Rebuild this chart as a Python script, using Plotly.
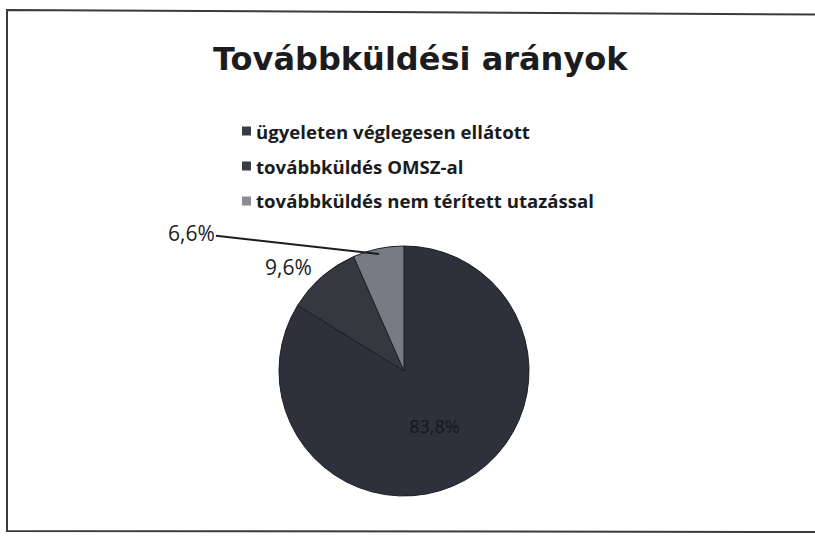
import plotly.graph_objects as go

W, H = 815, 539

title_text = "Továbbküldési arányok"
categories = [
    "ügyeleten véglegesen ellátott",
    "továbbküldés OMSZ-al",
    "továbbküldés nem térített utazással",
]
shares = [83.8, 9.6, 6.6]
slice_colors = ["#2e313c", "#363840", "#787b83"]
legend_swatches = ["#3a3d46", "#3a3d46", "#8a8d93"]

INK = "#1b1c20"


def px(x):
    return x / W


def py(y):
    return 1 - y / H


def pct(v):
    return f"{v:.1f}".replace(".", ",") + "%"


# pie geometry (pixels)
cx, cy, r = 404, 371, 125

fig = go.Figure(
    go.Pie(
        labels=categories,
        values=shares,
        sort=False,
        direction="clockwise",
        rotation=0,
        marker=dict(colors=slice_colors, line=dict(color="#1c1d22", width=1)),
        text=[pct(shares[0]), "", ""],
        textinfo="text",
        textposition="inside",
        insidetextorientation="horizontal",
        textfont=dict(family="Open Sans", size=18, color="#15161a"),
        showlegend=False,
        domain=dict(x=[px(cx - r), px(cx + r)], y=[py(cy + r), py(cy - r)]),
    )
)

annotations = [
    dict(
        text=f"<b>{title_text}</b>",
        x=px(420), y=py(59), xref="paper", yref="paper",
        xanchor="center", yanchor="middle", showarrow=False,
        font=dict(family="DejaVu Sans", size=32, color=INK),
    ),
    # outside value labels
    dict(
        text=pct(shares[1]),
        x=px(288), y=py(267), xref="paper", yref="paper",
        xanchor="center", yanchor="middle", showarrow=False,
        font=dict(family="Open Sans", size=21, color=INK),
    ),
    dict(
        text=pct(shares[2]),
        x=px(379), y=py(254), xref="paper", yref="paper",
        ax=191 - 379, ay=233 - 254, axref="pixel", ayref="pixel",
        showarrow=True, arrowhead=0, arrowwidth=2, arrowcolor=INK,
        font=dict(family="Open Sans", size=21, color=INK),
    ),
]

shapes = [
    # page frame
    dict(
        type="path", xref="paper", yref="paper",
        path=(
            f"M {px(830)},{py(14.5)} L {px(7)},{py(10)} "
            f"L {px(7)},{py(531)} L {px(830)},{py(532)}"
        ),
        line=dict(color="#3a3a3a", width=2),
    )
]

# legend rows
legend_rows_y = [131, 166, 201]
for name, col, yc in zip(categories, legend_swatches, legend_rows_y):
    shapes.append(
        dict(
            type="rect", xref="paper", yref="paper",
            x0=px(242), x1=px(251), y0=py(yc + 4.5), y1=py(yc - 4.5),
            fillcolor=col, line=dict(width=0),
        )
    )
    annotations.append(
        dict(
            text=f"<b>{name}</b>",
            x=px(254), y=py(yc), xref="paper", yref="paper",
            xanchor="left", yanchor="middle", showarrow=False,
            font=dict(family="Open Sans", size=18.6, color=INK),
        )
    )

fig.update_layout(
    width=W,
    height=H,
    margin=dict(l=0, r=0, t=0, b=0),
    paper_bgcolor="white",
    plot_bgcolor="white",
    annotations=annotations,
    shapes=shapes,
)

fig.write_html("out.html")
